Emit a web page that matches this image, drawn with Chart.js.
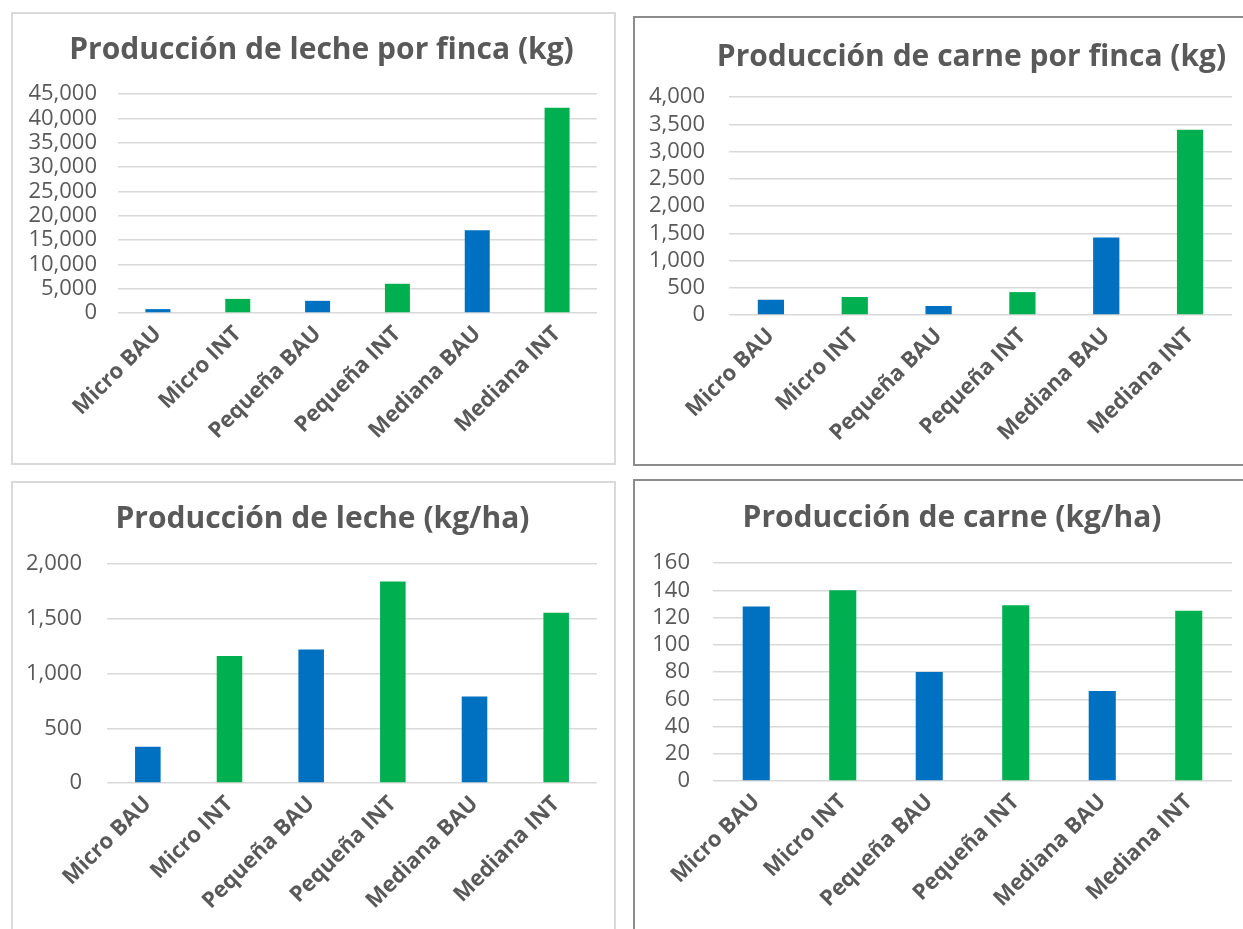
<!DOCTYPE html>
<html>
<head>
<meta charset="utf-8">
<script src="https://cdn.jsdelivr.net/npm/chart.js@4"></script>
<style>
  html, body { margin: 0; padding: 0; background: #ffffff; }
  body { width: 1243px; height: 929px; overflow: hidden; position: relative; }
  .panel { position: absolute; box-sizing: border-box; border: 2px solid #d9d9d9; background: #fff; }
  .panel canvas { display: block; }
</style>
</head>
<body>
<div class="panel" style="left:11px;top:12px;width:605px;height:453px;"><canvas id="c1" width="601" height="449"></canvas></div>
<div class="panel" style="left:633px;top:16px;width:620px;height:450px;border-color:#8c8c8c;"><canvas id="c2" width="616" height="446"></canvas></div>
<div class="panel" style="left:11px;top:481px;width:605px;height:470px;"><canvas id="c3" width="601" height="466"></canvas></div>
<div class="panel" style="left:633px;top:479px;width:620px;height:470px;border-color:#8c8c8c;"><canvas id="c4" width="616" height="466"></canvas></div>
<script>
// categories shared by the four charts
const categories = ["Micro BAU", "Micro INT", "Pequeña BAU", "Pequeña INT", "Mediana BAU", "Mediana INT"];
// values
const lecheFinca = [800, 2900, 2500, 6000, 17000, 42200];
const carneFinca = [280, 330, 165, 420, 1420, 3400];
const lecheHa = [330, 1160, 1220, 1840, 790, 1555];
const carneHa = [128, 140, 80, 129, 66, 125];
// BAU blue, INT green
const barColors = ["#0070C0", "#00B050", "#0070C0", "#00B050", "#0070C0", "#00B050"];

const textColor = "#595959";
const gridColor = "#d9d9d9";

// nudge the title sideways, Excel centres it a bit differently
const shiftTitle = {
  id: "shiftTitle",
  afterLayout(chart, args, opts) {
    const t = chart.titleBlock;
    if (t && opts.dx) {
      t.left += opts.dx;
      t.right += opts.dx;
    }
  },
};

function makeChart(id, title, values, yMax, yStep, lay) {
  return new Chart(document.getElementById(id), {
    type: "bar",
    plugins: [shiftTitle],
    data: {
      labels: categories,
      datasets: [{ data: values, backgroundColor: barColors, categoryPercentage: 1, barPercentage: 0.313 }],
    },
    options: {
      responsive: false,
      devicePixelRatio: 1,
      animation: false,
      layout: { padding: { left: 0, right: lay.padRight, top: 0, bottom: 0 } },
      plugins: {
        legend: { display: false },
        tooltip: { enabled: false },
        shiftTitle: { dx: lay.titleDx },
        title: {
          display: true,
          text: title,
          color: textColor,
          font: { family: "'Open Sans'", size: 30, weight: "bold", lineHeight: 1.2 },
          padding: { top: lay.titleTop, bottom: lay.titleBottom },
        },
      },
      scales: {
        x: {
          grid: { display: false },
          border: { display: false },
          ticks: {
            color: textColor,
            font: { family: "'Open Sans'", size: 22, weight: "bold" },
            minRotation: 45,
            maxRotation: 45,
            autoSkip: false,
            padding: 0,
          },
          afterFit: (scale) => { scale.height = lay.xHeight; },
        },
        y: {
          min: 0,
          max: yMax,
          grid: { color: gridColor, lineWidth: 1.5, drawTicks: false },
          border: { display: false },
          ticks: {
            stepSize: yStep,
            autoSkip: false,
            color: textColor,
            font: { family: "'Open Sans'", size: 22 },
            padding: lay.yPad,
          },
          afterFit: (scale) => { scale.width = lay.yWidth; },
        },
      },
    },
  });
}

makeChart("c1", "Producción de leche por finca (kg)", lecheFinca, 45000, 5000,
  { padRight: 17, yWidth: 105, xHeight: 150, titleTop: 18, titleBottom: 26, titleDx: 16.5, yPad: 21 });
makeChart("c2", "Producción de carne por finca (kg)", carneFinca, 4000, 500,
  { padRight: 19, yWidth: 94, xHeight: 149, titleTop: 21, titleBottom: 22, titleDx: 38, yPad: 24 });
makeChart("c3", "Producción de leche (kg/ha)", lecheHa, 2000, 500,
  { padRight: 17, yWidth: 94, xHeight: 166, titleTop: 18, titleBottom: 27, titleDx: 17.5, yPad: 25 });
makeChart("c4", "Producción de carne (kg/ha)", carneHa, 160, 20,
  { padRight: 19, yWidth: 78, xHeight: 166, titleTop: 19, titleBottom: 27, titleDx: 18.5, yPad: 23 });
</script>
</body>
</html>
